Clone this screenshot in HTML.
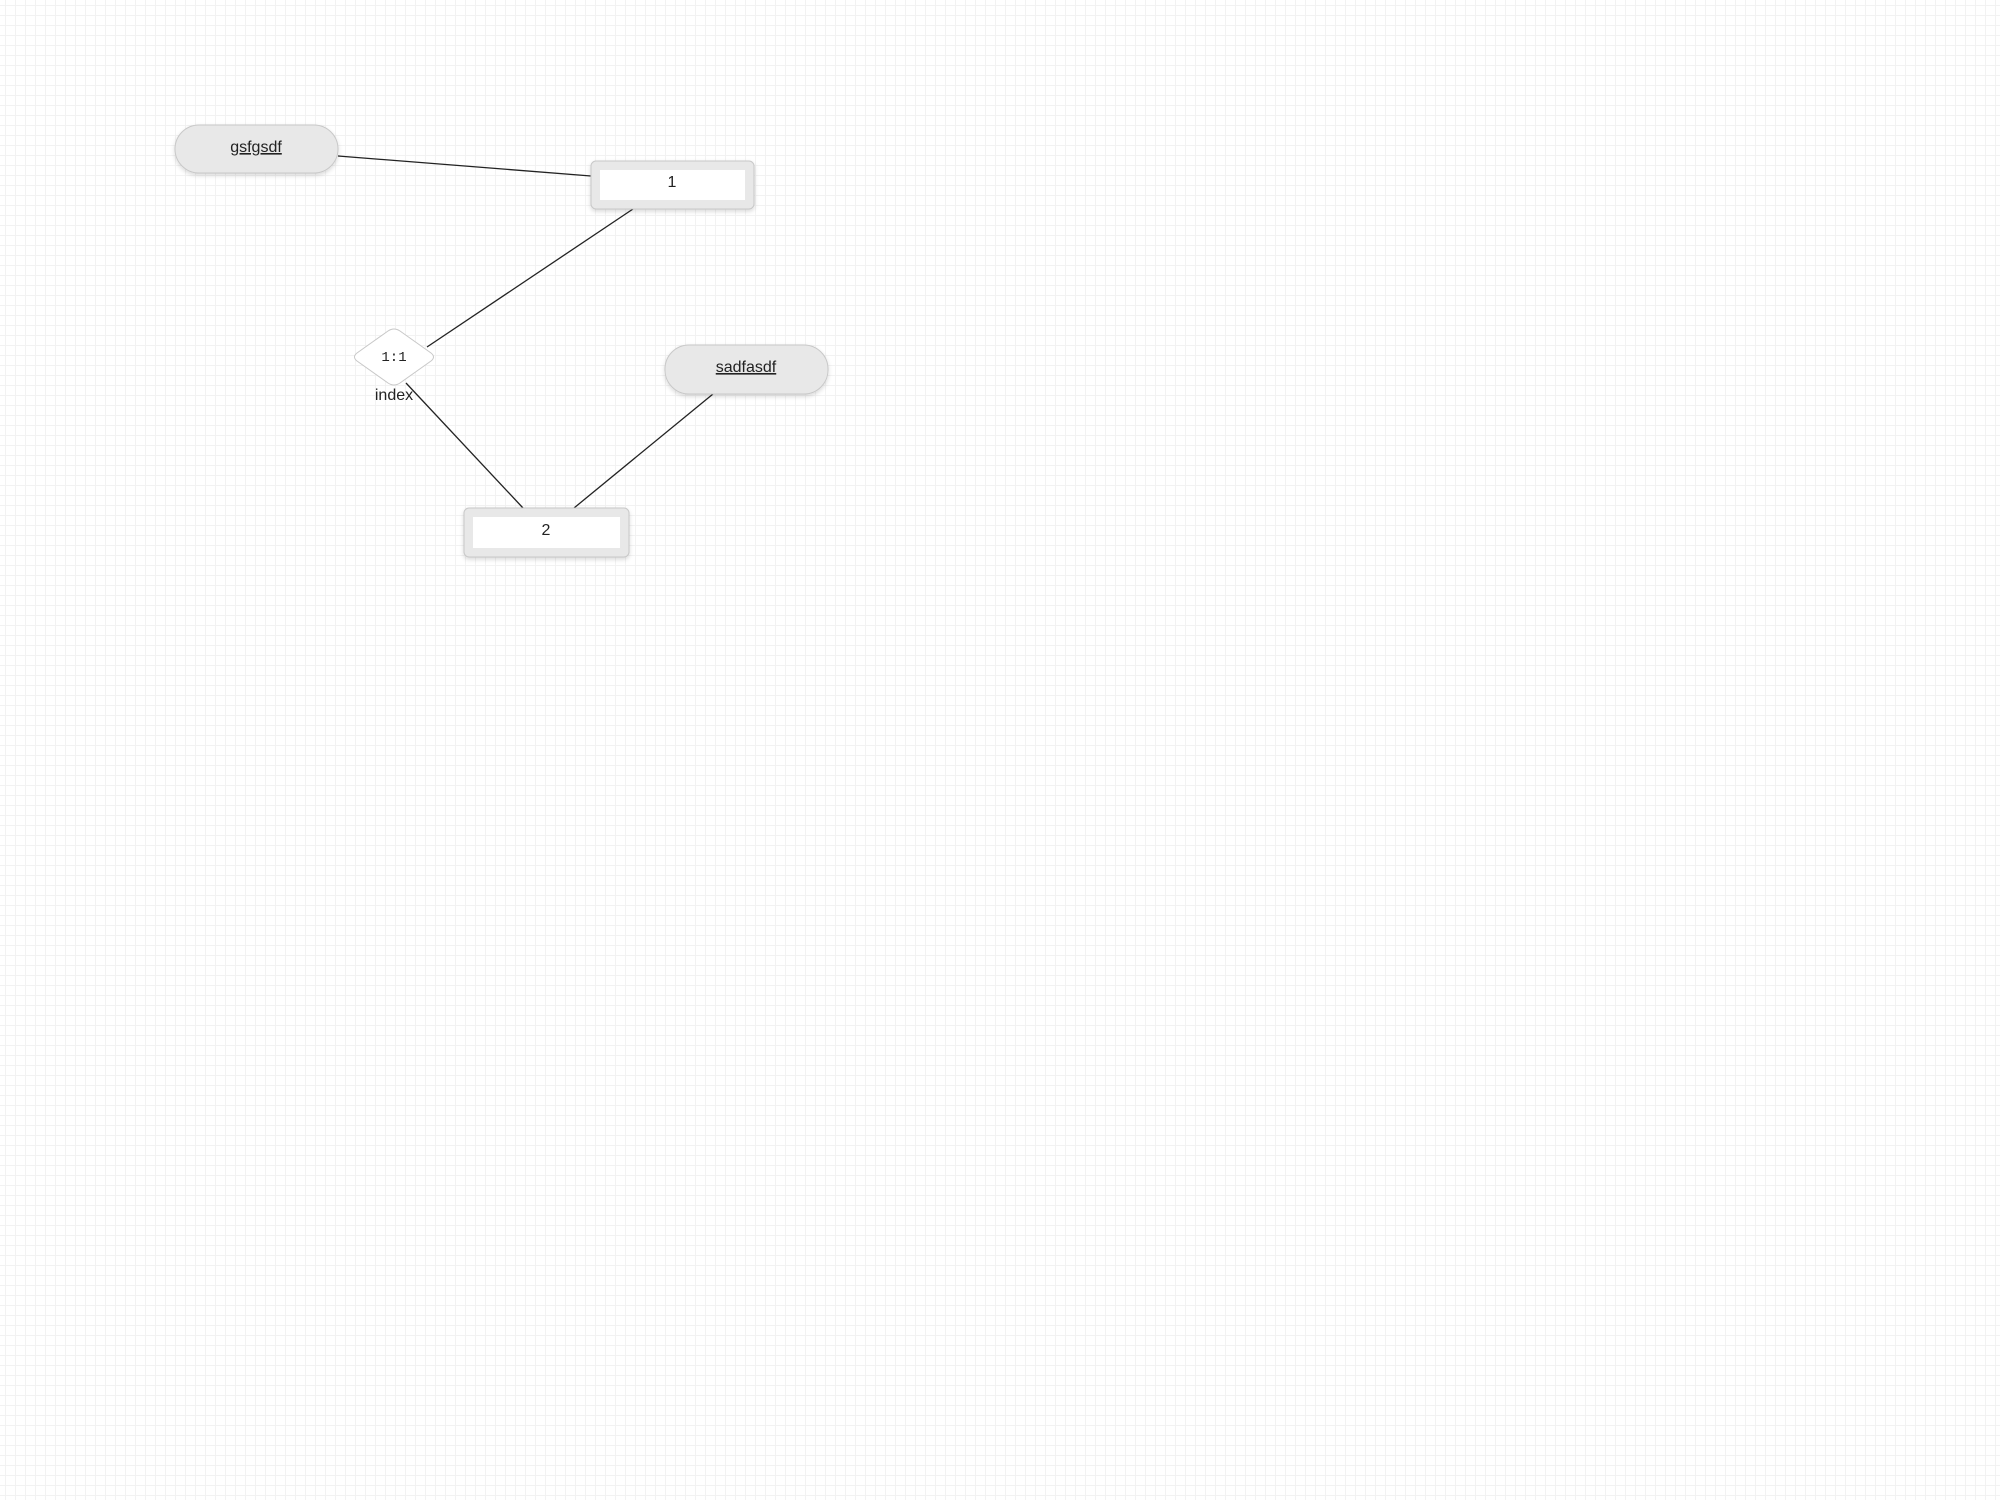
<!DOCTYPE html>
<html><head><meta charset="utf-8"><style>
html,body{margin:0;padding:0;width:2000px;height:1500px;overflow:hidden;background:#fff;}
body{background-image:linear-gradient(#f2f2f2 1px,transparent 1px),linear-gradient(90deg,#f2f2f2 1px,transparent 1px);background-size:10px 10px;background-position:0 5px,5px 0;}
svg{position:absolute;left:0;top:0;}
text{font-family:"Liberation Sans",sans-serif;fill:#222;}
</style></head><body>
<svg width="2000" height="1500" viewBox="0 0 2000 1500">
<defs><filter id="sh" x="-20%" y="-20%" width="140%" height="160%"><feDropShadow dx="0" dy="2" stdDeviation="2" flood-color="#000" flood-opacity="0.15"/></filter></defs>
<g stroke="#222" stroke-width="1.3">
<line x1="338" y1="156" x2="591" y2="176"/>
<line x1="633" y1="209" x2="427" y2="347"/>
<line x1="406" y1="383" x2="523" y2="508"/>
<line x1="713" y1="394" x2="574" y2="508"/>
</g>
<rect x="175" y="125" width="163" height="48" rx="24" fill="#e8e8e8" stroke="#c8c8c8" filter="url(#sh)"/>
<text x="256" y="152" font-size="16" text-anchor="middle" text-decoration="underline">gsfgsdf</text>
<rect x="665" y="345" width="163" height="49" rx="24" fill="#e8e8e8" stroke="#c8c8c8" filter="url(#sh)"/>
<text x="746" y="372" font-size="16" text-anchor="middle" text-decoration="underline">sadfasdf</text>
<rect x="591" y="161" width="163" height="48" rx="5" fill="#e8e8e8" stroke="#c8c8c8" filter="url(#sh)"/>
<rect x="600" y="170" width="145" height="30" fill="#fff"/>
<text x="672" y="187" font-size="16" text-anchor="middle">1</text>
<rect x="464" y="508" width="165" height="49" rx="5" fill="#e8e8e8" stroke="#c8c8c8" filter="url(#sh)"/>
<rect x="473" y="517" width="147" height="31" fill="#fff"/>
<text x="546" y="535" font-size="16" text-anchor="middle">2</text>
<path d="M388 331 Q394 327 400 331 L431 353 Q436 357 431 361 L400 383 Q394 387 388 383 L357 361 Q352 357 357 353 Z" fill="#fff" stroke="#c8c8c8"/>
<text x="394" y="361" font-size="14" text-anchor="middle" font-family="Liberation Mono,monospace" style="font-family:'Liberation Mono',monospace">1:1</text>
<text x="394" y="400" font-size="16" text-anchor="middle">index</text>
</svg>
</body></html>
